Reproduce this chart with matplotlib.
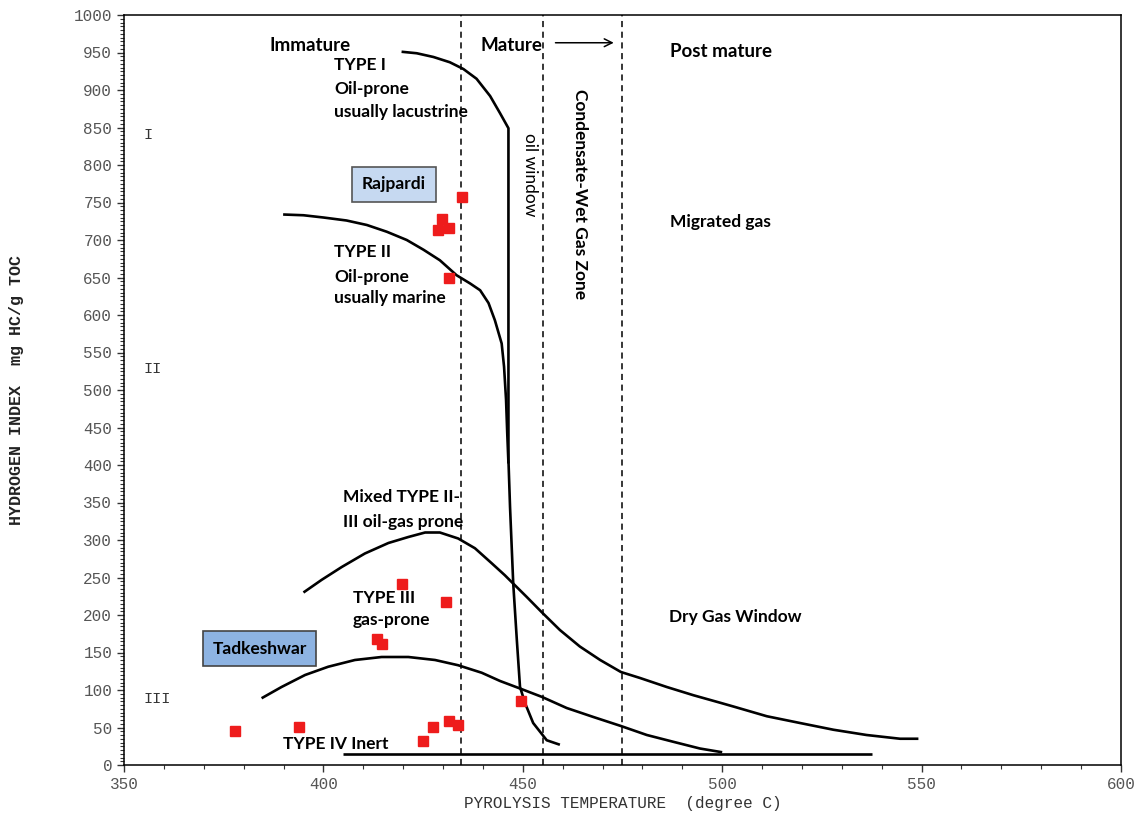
import numpy as np
import matplotlib.pyplot as plt
from matplotlib.ticker import MultipleLocator

# kerogen type curves (Tmax, HI)
type1_x = [419.6, 423.4, 427.6, 431.7, 435.1, 438.4, 441.8, 444.3, 446.4, 446.4,
           446.8, 447.6, 448.5, 449.3, 450.6, 452.6, 456.0, 459.3]
type1_y = [951, 949, 944, 937, 928, 915, 892, 869, 849, 407,
           344, 242, 167, 104, 82, 56, 33, 27]

type2_x = [389.9, 395.0, 400.0, 405.8, 410.9, 415.9, 420.9, 425.1, 429.2, 433.4,
           436.8, 439.3, 441.4, 443.0, 444.7, 445.3, 445.8, 446.1, 446.4]
type2_y = [734, 733, 730, 726, 720, 711, 700, 687, 673, 653,
           642, 633, 616, 593, 562, 531, 487, 442, 402]

mixed_x = [395.0, 399.6, 404.6, 410.4, 416.3, 421.3, 425.5, 429.2, 433.8, 438.0,
           442.2, 445.5, 447.2, 451.0, 454.7, 459.3, 464.3, 469.4, 474.6, 479.4,
           486.1, 492.8, 499.5, 502.8, 511.2, 519.5, 527.9, 536.2, 544.6, 549.2]
mixed_y = [230, 247, 264, 282, 296, 304, 310, 310, 302, 289,
           269, 253, 244, 224, 204, 180, 158, 140, 124, 116,
           104, 93, 83, 78, 65, 56, 47, 40, 35, 35]

type3_x = [384.5, 389.5, 395.4, 401.2, 407.9, 414.6, 421.3, 428.0, 433.8, 439.7,
           444.3, 449.3, 454.7, 461.0, 467.7, 474.6, 481.1, 487.7, 494.4, 500.0]
type3_y = [89, 104, 120, 131, 140, 144, 144, 140, 133, 123,
           112, 102, 91, 76, 64, 52, 40, 31, 22, 17]

type4_x = [405, 537.6]
type4_y = [14.5, 14.5]

# samples
tmax = [434.7, 429.7, 428.7, 431.6, 431.6,
        419.6, 430.7, 413.5, 414.6, 449.5, 394.0, 427.6, 431.6, 433.8, 424.9, 377.9]
hi = [757, 728, 714, 716, 650,
      241, 217, 168, 162, 86, 51, 51, 59, 53, 32, 45]

maturity_limits = [434.5, 455, 475]

fig = plt.figure(figsize=(11.37, 8.14), dpi=100)
ax = fig.add_axes([124 / 1137, 49 / 814, 997 / 1137, 750 / 814])

for xs, ys in [(type1_x, type1_y), (type2_x, type2_y), (mixed_x, mixed_y),
               (type3_x, type3_y), (type4_x, type4_y)]:
    ax.plot(xs, ys, color='black', lw=1.9, solid_capstyle='butt', solid_joinstyle='round')

for t in maturity_limits:
    ax.axvline(t, color='black', lw=1.1, ls=(0, (4, 3)))

ax.plot(tmax, hi, ls='none', marker='s', ms=6.5, color='#ee1c1c', mec='#ee1c1c')

ax.set_xlim(350, 600)
ax.set_ylim(0, 1000)
ax.xaxis.set_major_locator(MultipleLocator(50))
ax.xaxis.set_minor_locator(MultipleLocator(10))
ax.yaxis.set_major_locator(MultipleLocator(50))
ax.yaxis.set_minor_locator(MultipleLocator(5))
ax.tick_params(which='major', direction='out', length=5, width=1, colors='#333333',
               labelsize=11.5)
ax.tick_params(which='minor', direction='out', length=3, width=0.8, color='#333333')
for lab in ax.get_xticklabels() + ax.get_yticklabels():
    lab.set_family('Liberation Mono')
    lab.set_color('#555555')
for s in ax.spines.values():
    s.set_linewidth(1.1)

ax.set_xlabel('PYROLYSIS TEMPERATURE  (degree C)', family='Liberation Mono', fontsize=11.5,
              color='#333333', labelpad=3)
ax.set_ylabel('HYDROGEN INDEX  mg HC/g TOC', family='Liberation Mono', fontsize=12,
              fontweight='bold', color='#222222', labelpad=36)

head = dict(family='Lato', fontsize=13.5, fontweight='bold', color='black', va='center', ha='left')
ax.text(386.6, 959, 'Immature', **head)
ax.text(439.5, 959, 'Mature', **head)
ax.text(486.9, 951, 'Post mature', **head)
ax.annotate('', xy=(473.5, 963), xytext=(457.5, 963),
            arrowprops=dict(arrowstyle='->', lw=1.1, color='black', mutation_scale=14))

txt = dict(family='Lato', fontsize=12.5, fontweight='bold', color='black', va='center', ha='left')
ax.text(402.7, 933, 'TYPE I', **txt)
ax.text(402.7, 901, 'Oil-prone', **txt)
ax.text(402.7, 870, 'usually lacustrine', **txt)
ax.text(402.7, 684, 'TYPE II', **txt)
ax.text(402.7, 651, 'Oil-prone', **txt)
ax.text(402.7, 623, 'usually marine', **txt)
ax.text(404.9, 357, 'Mixed TYPE II-', **txt)
ax.text(404.9, 324, 'III oil-gas prone', **txt)
ax.text(407.4, 223, 'TYPE III', **txt)
ax.text(407.4, 193, 'gas-prone', **txt)
ax.text(389.9, 28, 'TYPE IV Inert', **txt)
ax.text(486.9, 724, 'Migrated gas', **txt)
ax.text(486.7, 197, 'Dry Gas Window', **txt)

ax.text(451.8, 787, 'oil window', family='Lato', fontsize=12.5, rotation=-90,
        ha='center', va='center')
ax.text(464.3, 761, 'Condensate-Wet Gas Zone', family='Lato', fontsize=12.5,
        fontweight='bold', rotation=-90, ha='center', va='center')

ax.text(417.7, 774, 'Rajpardi', family='Lato', fontsize=12.5, fontweight='bold',
        ha='center', va='center',
        bbox=dict(boxstyle='square,pad=0.55', fc='#c6d9f1', ec='#555555', lw=1.2))
ax.text(384.0, 155, 'Tadkeshwar', family='Lato', fontsize=12.5, fontweight='bold',
        ha='center', va='center',
        bbox=dict(boxstyle='square,pad=0.55', fc='#8db3e2', ec='#444444', lw=1.2))

mono = dict(family='Liberation Mono', fontsize=11, color='#333333', va='center', ha='center')
ax.text(356.0, 840, 'I', **mono)
ax.text(357.2, 528, 'II', **mono)
ax.text(358.3, 88, 'III', **mono)

fig.savefig('out.png', dpi=100)
